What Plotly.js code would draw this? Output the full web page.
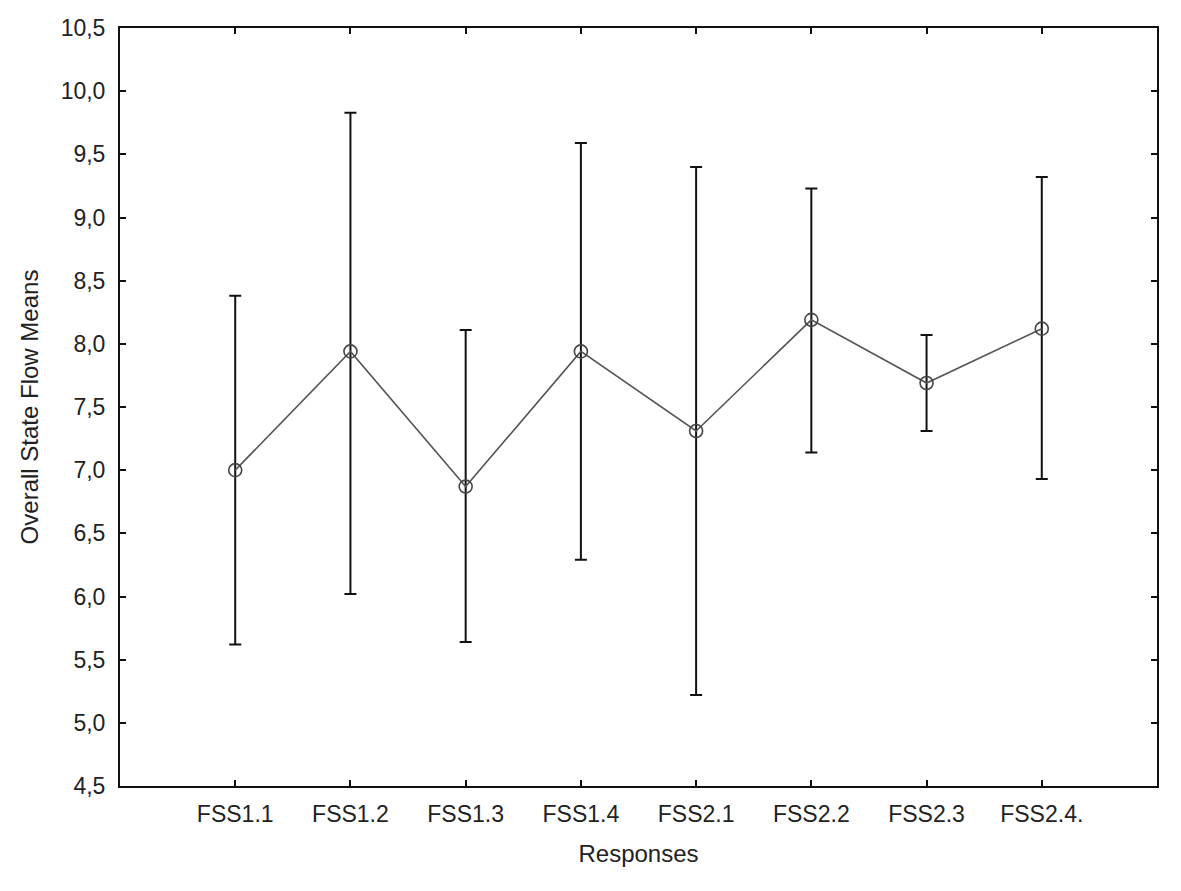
<!DOCTYPE html>
<html>
<head>
<meta charset="utf-8">
<script src="https://cdn.plot.ly/plotly-3.0.1.min.js"></script>
<style>html,body{margin:0;padding:0;background:#fff;}#chart{width:1181px;height:891px;}</style>
</head>
<body>
<div id="chart"></div>
<script>
const categories = ["FSS1.1","FSS1.2","FSS1.3","FSS1.4","FSS2.1","FSS2.2","FSS2.3","FSS2.4."];
const means = [7.00, 7.94, 6.87, 7.94, 7.31, 8.19, 7.69, 8.12];
const upper = [8.38, 9.83, 8.11, 9.59, 9.40, 9.23, 8.07, 9.32];
const lower = [5.62, 6.02, 5.64, 6.29, 5.22, 7.14, 7.31, 6.93];
const yTicks = [4.5,5.0,5.5,6.0,6.5,7.0,7.5,8.0,8.5,9.0,9.5,10.0,10.5];

const plus = upper.map((u,i)=>u-means[i]);
const minus = means.map((m,i)=>m-lower[i]);

const font = "Liberation Sans, Arial, sans-serif";

const trace = {
  x: categories.map((c,i)=>i),
  y: means,
  type: "scatter",
  mode: "lines+markers",
  line: {color: "#555555", width: 1.6},
  marker: {symbol: "circle-open", size: 13, color: "#444444", line: {width: 1.6, color: "#444444"}},
  error_y: {type: "data", symmetric: false, array: plus, arrayminus: minus, color: "#111111", thickness: 2, width: 6},
  showlegend: false,
  hoverinfo: "skip"
};

const layout = {
  width: 1181, height: 891,
  paper_bgcolor: "#ffffff", plot_bgcolor: "#ffffff",
  separators: ", ",
  margin: {l: 120, r: 24, t: 28, b: 105},
  font: {family: font, color: "#222222", size: 20},
  xaxis: {
    range: [-1, 8],
    tickmode: "array",
    tickvals: categories.map((c,i)=>i),
    ticktext: categories,
    ticks: "inside", ticklen: 6, tickwidth: 2, tickcolor: "#111",
    showline: true, linecolor: "#111", linewidth: 2, mirror: "ticks",
    showgrid: false, zeroline: false,
    tickfont: {size: 23, family: font, color: "#222"},
    ticklabelstandoff: 6,
    title: {text: "Responses", font: {size: 24, family: font, color: "#222"}, standoff: 20}
  },
  yaxis: {
    range: [4.5, 10.5],
    tickmode: "array",
    tickvals: yTicks,
    ticktext: yTicks.map(v=>v.toFixed(1).replace(".", ",")),
    ticks: "inside", ticklen: 6, tickwidth: 2, tickcolor: "#111",
    showline: true, linecolor: "#111", linewidth: 2, mirror: "ticks",
    showgrid: false, zeroline: false,
    tickfont: {size: 23, family: font, color: "#222"},
    ticklabelstandoff: 8,
    title: {text: "Overall State Flow Means", font: {size: 24, family: font, color: "#222"}, standoff: 15}
  }
};

Plotly.newPlot("chart", [trace], layout, {displayModeBar: false, staticPlot: true});
</script>
</body>
</html>
